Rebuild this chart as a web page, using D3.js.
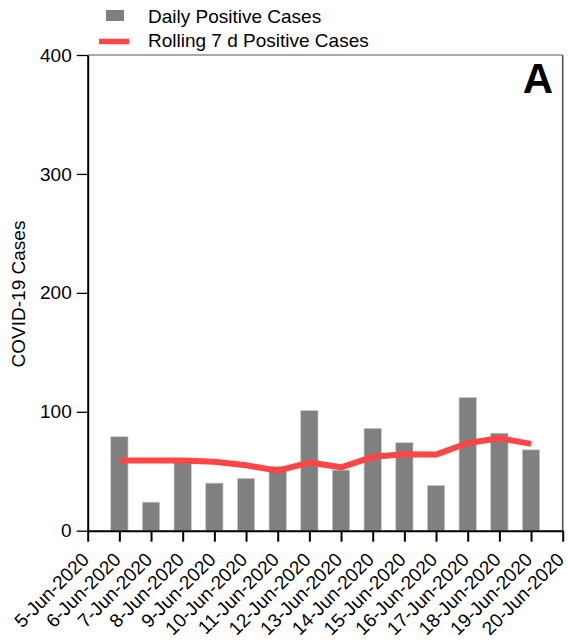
<!DOCTYPE html>
<html>
<head>
<meta charset="utf-8">
<script src="https://cdn.jsdelivr.net/npm/d3@7"></script>
<style>
  html, body { margin: 0; padding: 0; background: #fff; }
  svg { display: block; font-family: "Liberation Sans", Arial, sans-serif; }
</style>
</head>
<body>
<svg id="chart" width="568" height="644"></svg>
<script>
// Tick labels for the date axis (5-Jun to 20-Jun 2020)
const dateLabels = ["5-Jun-2020", "6-Jun-2020", "7-Jun-2020", "8-Jun-2020", "9-Jun-2020",
  "10-Jun-2020", "11-Jun-2020", "12-Jun-2020", "13-Jun-2020", "14-Jun-2020", "15-Jun-2020",
  "16-Jun-2020", "17-Jun-2020", "18-Jun-2020", "19-Jun-2020", "20-Jun-2020"];

// Days with reported data
const caseDays = ["6-Jun-2020", "7-Jun-2020", "8-Jun-2020", "9-Jun-2020", "10-Jun-2020",
  "11-Jun-2020", "12-Jun-2020", "13-Jun-2020", "14-Jun-2020", "15-Jun-2020", "16-Jun-2020",
  "17-Jun-2020", "18-Jun-2020", "19-Jun-2020"];

// Daily positive cases
const dailyCases = [79, 24, 59, 40, 44, 54, 101, 51, 86, 74, 38, 112, 82, 68];

// Rolling 7-day average of positive cases
const rollingCases = [59, 59, 59, 58, 55, 50.5, 57.3, 53.3, 62.1, 64.3, 64.0, 73.7, 77.7, 73.0];

const yTicks = [0, 100, 200, 300, 400];

const svg = d3.select("#chart");
const plotLeft = 87.7, plotRight = 562.7, plotTop = 55, plotBottom = 530.7;

const x = d3.scalePoint().domain(dateLabels).range([plotLeft, plotRight]);
const y = d3.scaleLinear().domain([0, 400]).range([plotBottom, plotTop]);

const barColor = "#808080";
const lineColor = "#ff4545";
const fontSize = 19;

// Frame lines along the top and right
svg.append("line")
  .attr("x1", plotLeft).attr("x2", plotRight)
  .attr("y1", y(400)).attr("y2", y(400))
  .attr("stroke", "#555").attr("stroke-width", 1.2);
svg.append("line")
  .attr("x1", plotRight).attr("x2", plotRight)
  .attr("y1", y(400)).attr("y2", plotBottom)
  .attr("stroke", "#555").attr("stroke-width", 1.6);

// Bars
const barW = 17.3;
svg.append("g").selectAll("rect")
  .data(caseDays.map((d, i) => ({ d, v: dailyCases[i] })))
  .join("rect")
  .attr("x", p => x(p.d) - barW / 2)
  .attr("y", p => y(p.v))
  .attr("width", barW)
  .attr("height", p => y(0) - y(p.v))
  .attr("fill", barColor)
  .attr("stroke", "#c8c8c8")
  .attr("stroke-width", 0.7);

// Rolling average line
const line = d3.line()
  .x(p => x(p.d))
  .y(p => y(p.v));
svg.append("path")
  .datum(caseDays.map((d, i) => ({ d, v: rollingCases[i] })))
  .attr("d", line)
  .attr("fill", "none")
  .attr("stroke", lineColor)
  .attr("stroke-width", 6)
  .attr("stroke-linejoin", "round");

// Y axis
const yAxis = svg.append("g")
  .attr("transform", `translate(${plotLeft},0)`)
  .call(d3.axisLeft(y).tickValues(yTicks).tickSize(11).tickPadding(5).tickSizeOuter(0));
yAxis.select(".domain").attr("stroke", "#000").attr("stroke-width", 2);
yAxis.selectAll(".tick line").attr("stroke", "#000").attr("stroke-width", 1.3);
yAxis.selectAll(".tick text")
  .attr("font-size", fontSize).attr("fill", "#000")
  .attr("font-family", "Liberation Sans, Arial, sans-serif");

// X axis
const xAxis = svg.append("g")
  .attr("transform", `translate(0,${plotBottom})`)
  .call(d3.axisBottom(x).tickSize(11).tickSizeOuter(0));
xAxis.select(".domain").attr("stroke", "#000").attr("stroke-width", 2);
xAxis.selectAll(".tick line").attr("stroke", "#000").attr("stroke-width", 2);
xAxis.selectAll(".tick text")
  .attr("font-size", fontSize).attr("fill", "#000")
  .attr("font-family", "Liberation Sans, Arial, sans-serif")
  .attr("text-anchor", "end")
  .attr("dy", null)
  .attr("y", null)
  .attr("transform", "translate(2,30) rotate(-45)");

// Y axis title
svg.append("text")
  .attr("transform", `translate(25,294) rotate(-90)`)
  .attr("text-anchor", "middle")
  .attr("font-size", fontSize)
  .text("COVID-19 Cases");

// Panel letter
svg.append("text")
  .attr("x", 553).attr("y", 93)
  .attr("text-anchor", "end")
  .attr("font-size", 42)
  .attr("font-weight", "bold")
  .text("A");

// Legend
const legend = svg.append("g");
legend.append("rect")
  .attr("x", 106).attr("y", 10).attr("width", 18).attr("height", 11)
  .attr("fill", barColor);
legend.append("text")
  .attr("x", 148).attr("y", 22.5)
  .attr("font-size", fontSize)
  .text("Daily Positive Cases");
legend.append("line")
  .attr("x1", 99).attr("x2", 129).attr("y1", 41.5).attr("y2", 41.5)
  .attr("stroke", lineColor).attr("stroke-width", 5.5);
legend.append("text")
  .attr("x", 148).attr("y", 47)
  .attr("font-size", fontSize)
  .text("Rolling 7 d Positive Cases");
</script>
</body>
</html>
